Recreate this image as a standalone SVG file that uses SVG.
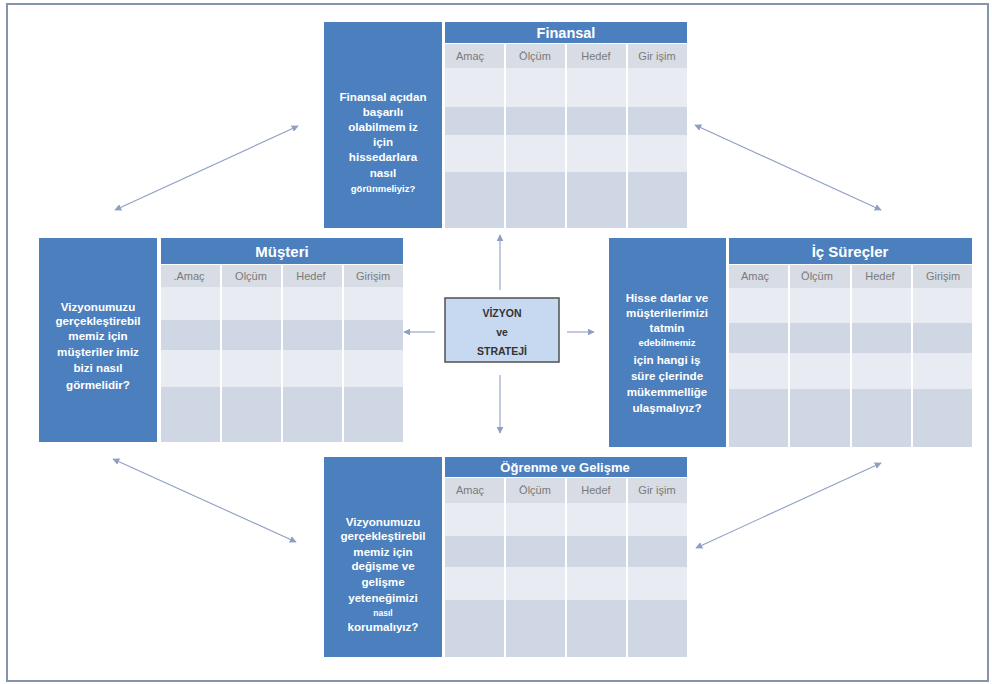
<svg xmlns="http://www.w3.org/2000/svg" width="992" height="684" viewBox="0 0 992 684">
<defs>
<marker id="ah" viewBox="0 0 10 10" refX="9" refY="5" markerWidth="7" markerHeight="7" orient="auto-start-reverse" markerUnits="userSpaceOnUse">
<path d="M0,0 L10,5 L0,10 z" fill="#8e9ec4"/>
</marker>
<style>
.panel{fill:#4c7fbd}
.hdr{fill:#4c7fbd}
.ch{fill:#d8dce5}
.rl{fill:#e8ebf2}
.rd{fill:#cfd6e4}
.pt{fill:#ffffff;font-family:"Liberation Sans",Arial,sans-serif;font-weight:bold;font-size:11.6px;text-anchor:middle}
.ht{fill:#ffffff;font-family:"Liberation Sans",Arial,sans-serif;font-weight:bold;font-size:14.5px;text-anchor:middle}
.ct{fill:#7a7a7a;font-family:"Liberation Sans",Arial,sans-serif;font-size:11px;text-anchor:middle}
.vt{fill:#333333;font-family:"Liberation Sans",Arial,sans-serif;font-weight:bold;font-size:10.5px;text-anchor:middle}
.con{stroke:#8e9ec4;stroke-width:1.1;fill:none}
</style>
</defs>
<rect x="0" y="0" width="992" height="684" fill="#ffffff"/>
<rect x="7" y="4" width="981" height="677" fill="none" stroke="#8593ab" stroke-width="2"/>

<g id="finansal">
<rect class="panel" x="324" y="22" width="118" height="206"/>
<rect class="hdr" x="445" y="22" width="242" height="21"/>
<text class="ht" x="566" y="38">Finansal</text>
<g>
<rect class="ch" x="445" y="44" width="59" height="24"/><rect class="ch" x="506" y="44" width="59" height="24"/><rect class="ch" x="567" y="44" width="59" height="24"/><rect class="ch" x="628" y="44" width="59" height="24"/>
<rect class="rl" x="445" y="68" width="59" height="39"/><rect class="rl" x="506" y="68" width="59" height="39"/><rect class="rl" x="567" y="68" width="59" height="39"/><rect class="rl" x="628" y="68" width="59" height="39"/>
<rect class="rd" x="445" y="107" width="59" height="28"/><rect class="rd" x="506" y="107" width="59" height="28"/><rect class="rd" x="567" y="107" width="59" height="28"/><rect class="rd" x="628" y="107" width="59" height="28"/>
<rect class="rl" x="445" y="135" width="59" height="37"/><rect class="rl" x="506" y="135" width="59" height="37"/><rect class="rl" x="567" y="135" width="59" height="37"/><rect class="rl" x="628" y="135" width="59" height="37"/>
<rect class="rd" x="445" y="172" width="59" height="56"/><rect class="rd" x="506" y="172" width="59" height="56"/><rect class="rd" x="567" y="172" width="59" height="56"/><rect class="rd" x="628" y="172" width="59" height="56"/>
</g>
<text class="ct" x="470" y="60">Amaç</text><text class="ct" x="535" y="60">Ölçüm</text><text class="ct" x="596" y="60">Hedef</text><text class="ct" x="657" y="60">Gir işim</text>
<text class="pt" x="383" y="101">Finansal açıdan</text>
<text class="pt" x="383" y="116">başarılı</text>
<text class="pt" x="383" y="131">olabilmem iz</text>
<text class="pt" x="383" y="146">için</text>
<text class="pt" x="383" y="161">hissedarlara</text>
<text class="pt" x="383" y="177">nasıl</text>
<text class="pt" x="383" y="192" style="font-size:9.5px">görünmeliyiz?</text>
</g>

<g id="musteri">
<rect class="panel" x="39" y="238" width="118" height="204"/>
<rect class="hdr" x="161" y="238" width="242" height="26"/>
<text class="ht" x="282" y="257" style="font-size:15px">Müşteri</text>
<g>
<rect class="ch" x="161" y="265" width="59" height="22"/><rect class="ch" x="222" y="265" width="59" height="22"/><rect class="ch" x="283" y="265" width="59" height="22"/><rect class="ch" x="344" y="265" width="59" height="22"/>
<rect class="rl" x="161" y="287" width="59" height="33"/><rect class="rl" x="222" y="287" width="59" height="33"/><rect class="rl" x="283" y="287" width="59" height="33"/><rect class="rl" x="344" y="287" width="59" height="33"/>
<rect class="rd" x="161" y="320" width="59" height="30"/><rect class="rd" x="222" y="320" width="59" height="30"/><rect class="rd" x="283" y="320" width="59" height="30"/><rect class="rd" x="344" y="320" width="59" height="30"/>
<rect class="rl" x="161" y="350" width="59" height="37"/><rect class="rl" x="222" y="350" width="59" height="37"/><rect class="rl" x="283" y="350" width="59" height="37"/><rect class="rl" x="344" y="350" width="59" height="37"/>
<rect class="rd" x="161" y="387" width="59" height="55"/><rect class="rd" x="222" y="387" width="59" height="55"/><rect class="rd" x="283" y="387" width="59" height="55"/><rect class="rd" x="344" y="387" width="59" height="55"/>
</g>
<text class="ct" x="189" y="280">.Amaç</text><text class="ct" x="251" y="280">Olçüm</text><text class="ct" x="311" y="280">Hedef</text><text class="ct" x="373" y="280">Girişim</text>
<text class="pt" x="98" y="311">Vizyonumuzu</text>
<text class="pt" x="98" y="325">gerçekleştirebil</text>
<text class="pt" x="98" y="340">memiz için</text>
<text class="pt" x="98" y="356">müşteriler imiz</text>
<text class="pt" x="98" y="372">bizi nasıl</text>
<text class="pt" x="98" y="389">görmelidir?</text>
</g>

<g id="ic-surecler">
<rect class="panel" x="609" y="238" width="117" height="209"/>
<rect class="hdr" x="729" y="238" width="243" height="26"/>
<text class="ht" x="850" y="257" style="font-size:15px">İç Süreçler</text>
<g>
<rect class="ch" x="729" y="265" width="59" height="23"/><rect class="ch" x="790" y="265" width="60" height="23"/><rect class="ch" x="852" y="265" width="59" height="23"/><rect class="ch" x="913" y="265" width="59" height="23"/>
<rect class="rl" x="729" y="288" width="59" height="35"/><rect class="rl" x="790" y="288" width="60" height="35"/><rect class="rl" x="852" y="288" width="59" height="35"/><rect class="rl" x="913" y="288" width="59" height="35"/>
<rect class="rd" x="729" y="323" width="59" height="30"/><rect class="rd" x="790" y="323" width="60" height="30"/><rect class="rd" x="852" y="323" width="59" height="30"/><rect class="rd" x="913" y="323" width="59" height="30"/>
<rect class="rl" x="729" y="353" width="59" height="36"/><rect class="rl" x="790" y="353" width="60" height="36"/><rect class="rl" x="852" y="353" width="59" height="36"/><rect class="rl" x="913" y="353" width="59" height="36"/>
<rect class="rd" x="729" y="389" width="59" height="58"/><rect class="rd" x="790" y="389" width="60" height="58"/><rect class="rd" x="852" y="389" width="59" height="58"/><rect class="rd" x="913" y="389" width="59" height="58"/>
</g>
<text class="ct" x="755" y="280">Amaç</text><text class="ct" x="817" y="280">Ölçüm</text><text class="ct" x="880" y="280">Hedef</text><text class="ct" x="943" y="280">Girişim</text>
<text class="pt" x="667" y="302">Hisse darlar ve</text>
<text class="pt" x="667" y="317">müşterilerimizi</text>
<text class="pt" x="667" y="332">tatmin</text>
<text class="pt" x="667" y="346" style="font-size:9.5px">edebilmemiz</text>
<text class="pt" x="667" y="364">için hangi iş</text>
<text class="pt" x="667" y="380">süre çlerinde</text>
<text class="pt" x="667" y="396">mükemmelliğe</text>
<text class="pt" x="667" y="412">ulaşmalıyız?</text>
</g>

<g id="ogrenme">
<rect class="panel" x="324" y="457" width="118" height="200"/>
<rect class="hdr" x="445" y="457" width="242" height="20"/>
<text class="ht" x="565" y="472" style="font-size:13px">Öğrenme  ve Gelişme</text>
<g>
<rect class="ch" x="445" y="478" width="59" height="25"/><rect class="ch" x="506" y="478" width="59" height="25"/><rect class="ch" x="567" y="478" width="59" height="25"/><rect class="ch" x="628" y="478" width="59" height="25"/>
<rect class="rl" x="445" y="503" width="59" height="33"/><rect class="rl" x="506" y="503" width="59" height="33"/><rect class="rl" x="567" y="503" width="59" height="33"/><rect class="rl" x="628" y="503" width="59" height="33"/>
<rect class="rd" x="445" y="536" width="59" height="31"/><rect class="rd" x="506" y="536" width="59" height="31"/><rect class="rd" x="567" y="536" width="59" height="31"/><rect class="rd" x="628" y="536" width="59" height="31"/>
<rect class="rl" x="445" y="567" width="59" height="33"/><rect class="rl" x="506" y="567" width="59" height="33"/><rect class="rl" x="567" y="567" width="59" height="33"/><rect class="rl" x="628" y="567" width="59" height="33"/>
<rect class="rd" x="445" y="600" width="59" height="57"/><rect class="rd" x="506" y="600" width="59" height="57"/><rect class="rd" x="567" y="600" width="59" height="57"/><rect class="rd" x="628" y="600" width="59" height="57"/>
</g>
<text class="ct" x="470" y="494">Amaç</text><text class="ct" x="535" y="494">Ölçüm</text><text class="ct" x="596" y="494">Hedef</text><text class="ct" x="657" y="494">Gir işim</text>
<text class="pt" x="383" y="526">Vizyonumuzu</text>
<text class="pt" x="383" y="540">gerçekleştirebil</text>
<text class="pt" x="383" y="556">memiz için</text>
<text class="pt" x="383" y="570">değişme ve</text>
<text class="pt" x="383" y="586">gelişme</text>
<text class="pt" x="383" y="602">yeteneğimizi</text>
<text class="pt" x="383" y="616" style="font-size:8.5px">nasıl</text>
<text class="pt" x="383" y="631">korumalıyız?</text>
</g>

<g id="vizyon">
<rect x="445" y="298" width="114" height="64" fill="#c6d9f0" stroke="#505050" stroke-width="1.5"/>
<text class="vt" x="502" y="317">VİZYON</text>
<text class="vt" x="502" y="336">ve</text>
<text class="vt" x="502" y="355">STRATEJİ</text>
</g>

<g id="connectors">
<line class="con" x1="500" y1="290" x2="500" y2="235" marker-end="url(#ah)"/>
<line class="con" x1="500" y1="375" x2="500" y2="433" marker-end="url(#ah)"/>
<line class="con" x1="435" y1="332" x2="404" y2="332" marker-end="url(#ah)"/>
<line class="con" x1="567" y1="332" x2="594" y2="332" marker-end="url(#ah)"/>
<line class="con" x1="115" y1="210" x2="298" y2="126" marker-start="url(#ah)" marker-end="url(#ah)"/>
<line class="con" x1="695" y1="125" x2="881" y2="210" marker-start="url(#ah)" marker-end="url(#ah)"/>
<line class="con" x1="113" y1="459" x2="296" y2="542" marker-start="url(#ah)" marker-end="url(#ah)"/>
<line class="con" x1="881" y1="463" x2="696" y2="548" marker-start="url(#ah)" marker-end="url(#ah)"/>
</g>
</svg>
